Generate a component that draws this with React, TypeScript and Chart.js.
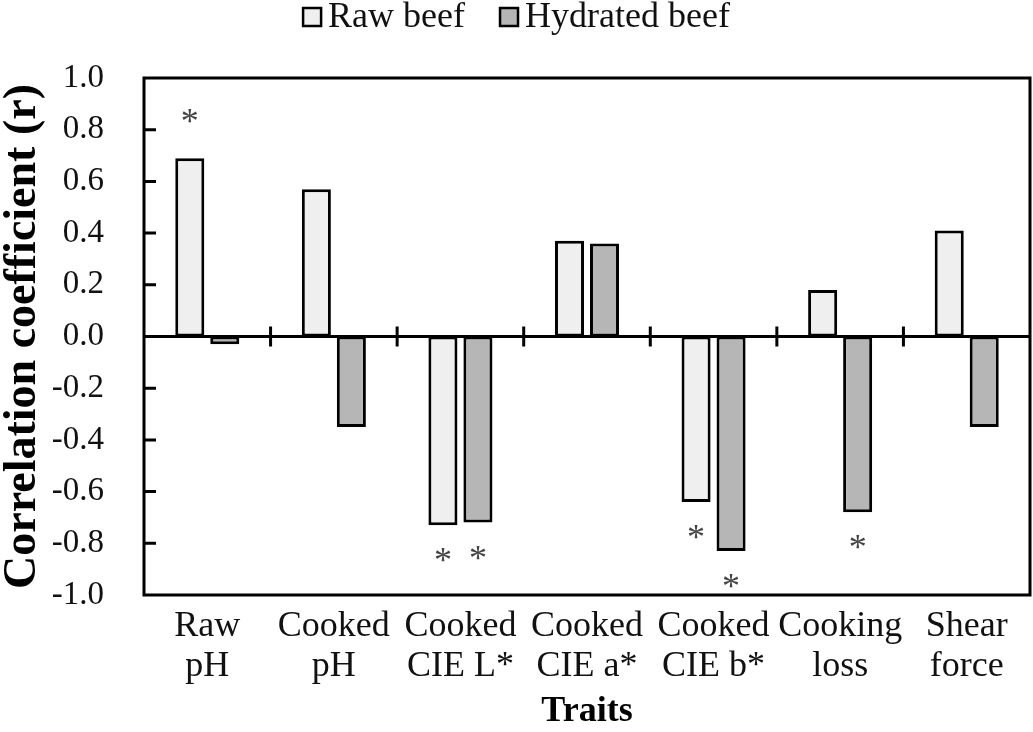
import React, { useEffect, useRef } from 'react';
import { Chart, registerables } from 'chart.js';

Chart.register(...registerables);

const categories: string[][] = [
  ['Raw', 'pH'],
  ['Cooked', 'pH'],
  ['Cooked', 'CIE L*'],
  ['Cooked', 'CIE a*'],
  ['Cooked', 'CIE b*'],
  ['Cooking', 'loss'],
  ['Shear', 'force'],
];
const seriesNames = ['Raw beef', 'Hydrated beef'];
const rawBeef = [0.69, 0.57, -0.73, 0.37, -0.64, 0.18, 0.41];
const hydratedBeef = [-0.03, -0.35, -0.72, 0.36, -0.83, -0.68, -0.35];
const rawSignificant = [true, false, true, false, true, false, false];
const hydratedSignificant = [false, false, true, false, true, true, false];
const seriesColors = ['#efefef', '#b6b6b6'];
const yMin = -1.0;
const yMax = 1.0;
const yStep = 0.2;

const FONT = '"Liberation Serif", "Times New Roman", serif';

const decorPlugin = {
  id: 'decor',
  afterDatasetsDraw(chart: any) {
    const { ctx, chartArea: a, scales } = chart;
    const x = scales.x;
    const y = scales.y;
    ctx.save();
    ctx.strokeStyle = '#000';
    ctx.lineWidth = 3;
    const y0 = y.getPixelForValue(0);
    ctx.beginPath();
    ctx.moveTo(a.left, y0);
    ctx.lineTo(a.right, y0);
    // inward y ticks
    y.ticks.forEach((t: any) => {
      const v = t.value;
      if (Math.abs(v) < 0.01 || Math.abs(v) > 0.99) return;
      const py = y.getPixelForValue(v);
      ctx.moveTo(a.left, py);
      ctx.lineTo(a.left + 12, py);
    });
    // category boundary ticks on zero line
    for (let i = 1; i < categories.length; i++) {
      const px = (x.getPixelForValue(i - 1) + x.getPixelForValue(i)) / 2;
      ctx.moveTo(px, y0 - 10);
      ctx.lineTo(px, y0 + 10);
    }
    ctx.stroke();
    ctx.strokeRect(a.left, a.top, a.right - a.left, a.bottom - a.top);

    // significance asterisks
    ctx.fillStyle = '#444';
    ctx.font = '36px ' + FONT;
    ctx.textAlign = 'center';
    ctx.textBaseline = 'alphabetic';
    const sigs = [rawSignificant, hydratedSignificant];
    const vals = [rawBeef, hydratedBeef];
    sigs.forEach((sig, di) => {
      const meta = chart.getDatasetMeta(di);
      meta.data.forEach((bar: any, i: number) => {
        if (!sig[i]) return;
        const v = vals[di][i];
        const cy = v >= 0 ? bar.y - 42 : bar.y + 30;
        ctx.fillText('*', bar.x, cy + 17);
      });
    });

    // legend
    ctx.font = '36px ' + FONT;
    ctx.textAlign = 'left';
    const box = 18;
    const gapBox = 7;
    const gapItem = 35;
    const widths = seriesNames.map((n) => ctx.measureText(n).width);
    const total =
      widths.reduce((s, w) => s + box + gapBox + w, 0) + gapItem * (seriesNames.length - 1);
    let lx = (chart.width - total) / 2;
    seriesNames.forEach((n, i) => {
      ctx.fillStyle = seriesColors[i];
      ctx.fillRect(lx, 8, box, box);
      ctx.lineWidth = 2.5;
      ctx.strokeStyle = '#000';
      ctx.strokeRect(lx, 8, box, box);
      ctx.fillStyle = '#111';
      ctx.fillText(n, lx + box + gapBox, 27);
      lx += box + gapBox + widths[i] + gapItem;
    });
    ctx.restore();
  },
};

export default function App() {
  const ref = useRef<HTMLCanvasElement>(null);
  useEffect(() => {
    if (!ref.current) return;
    const chart = new Chart(ref.current, {
      type: 'bar',
      data: {
        labels: categories,
        datasets: [
          {
            label: seriesNames[0],
            data: rawBeef,
            backgroundColor: seriesColors[0],
            borderColor: '#000',
            borderWidth: 3,
            borderSkipped: false,
          },
          {
            label: seriesNames[1],
            data: hydratedBeef,
            backgroundColor: seriesColors[1],
            borderColor: '#000',
            borderWidth: 3,
            borderSkipped: false,
          },
        ],
      },
      options: {
        animation: false,
        responsive: false,
        categoryPercentage: 0.553,
        barPercentage: 0.83,
        layout: { padding: { top: 78, right: 3, bottom: 0, left: 0 } },
        plugins: {
          legend: { display: false },
          tooltip: { enabled: false },
        },
        scales: {
          x: {
            grid: { display: false, drawTicks: false },
            border: { display: false },
            ticks: {
              color: '#111',
              font: { family: FONT, size: 36, lineHeight: 1.1 },
              padding: 12,
              maxRotation: 0,
              autoSkip: false,
            },
            title: {
              display: true,
              text: 'Traits',
              color: '#000',
              font: { family: FONT, size: 36, weight: 'bold', lineHeight: 1.1 },
              padding: { top: 0, bottom: 0 },
            },
            afterFit: (s: any) => {
              s.height = 137;
            },
          },
          y: {
            min: yMin,
            max: yMax,
            grid: { display: false, drawTicks: false },
            border: { display: false },
            ticks: {
              stepSize: yStep,
              color: '#111',
              font: { family: FONT, size: 33 },
              padding: 40,
              callback: (v: any) => (Math.round(Number(v) * 10) / 10).toFixed(1),
            },
            title: {
              display: true,
              text: 'Correlation coefficient (r)',
              color: '#000',
              font: { family: FONT, size: 46, weight: 'bold', lineHeight: 1.0 },
              padding: { top: 0, bottom: 0 },
            },
            afterFit: (s: any) => {
              s.width = 144;
            },
          },
        },
      },
      plugins: [decorPlugin],
    });
    return () => chart.destroy();
  }, []);
  return (
    <div style={{ position: 'absolute', left: 0, top: 0, width: 1033, height: 732, background: '#fff' }}>
      <canvas ref={ref} width={1033} height={732} style={{ display: 'block' }} />
    </div>
  );
}
